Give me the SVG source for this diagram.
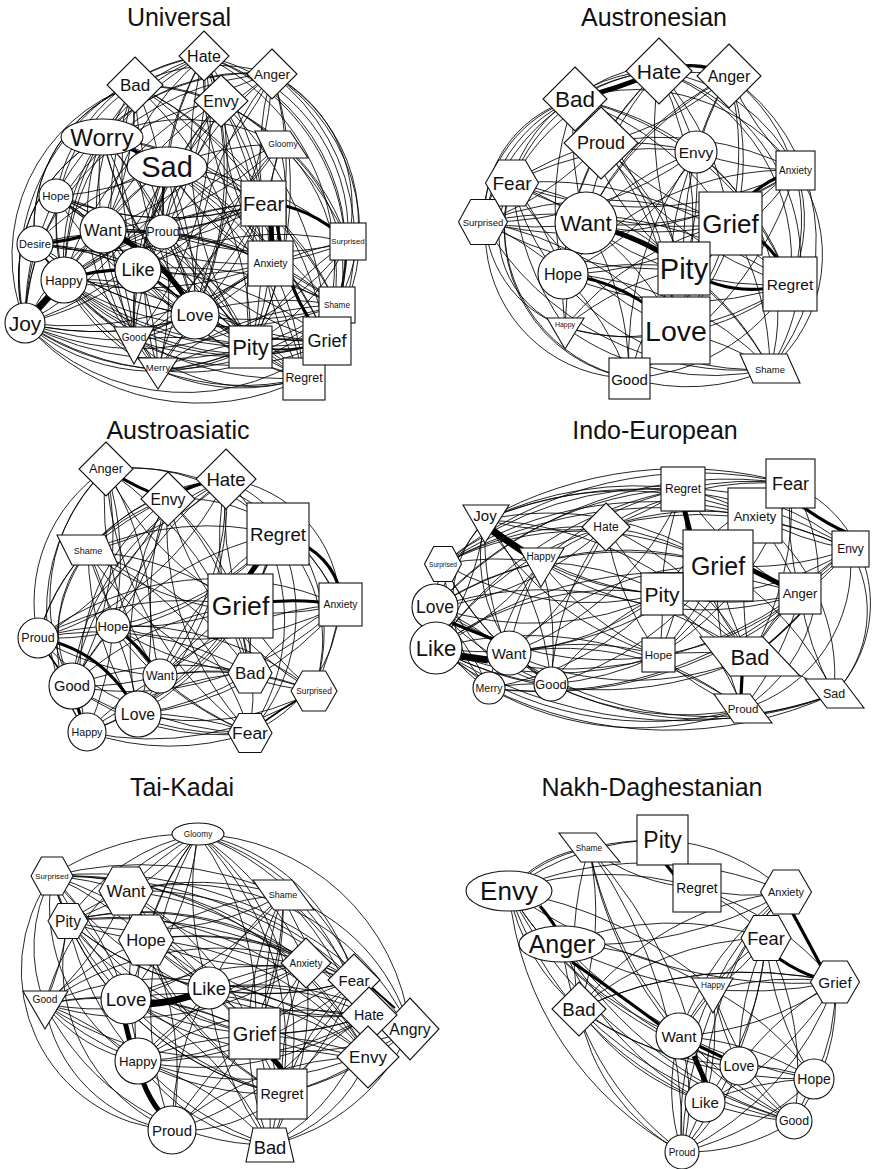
<svg xmlns="http://www.w3.org/2000/svg" width="874" height="1169" viewBox="0 0 874 1169">
<style>
.e path{fill:none;stroke:#000;stroke-width:.85}
.e path.m{stroke-width:1.7}
.e path.t{stroke-width:3.2}
.e path.x{stroke-width:5}
.e path.xx{stroke-width:7}
.n circle,.n rect,.n polygon,.n ellipse{fill:#fff;stroke:#111;stroke-width:1.1}
text{font-family:"Liberation Sans",Arial,Helvetica,sans-serif;fill:#111;text-anchor:middle;dominant-baseline:central}
text.ttl{font-size:25px;dominant-baseline:auto}
</style>
<rect width="874" height="1169" fill="#fff"/>

<!-- ================= UNIVERSAL ================= -->
<text class="ttl" x="179" y="26">Universal</text>
<g id="edges-universal" class="e">
<path d="M204 56A180 180 0 0 1 348 242M204 56A200 200 0 0 1 337 305M204 56A210 210 0 0 1 327 341M204 56A230 230 0 0 1 304 378M204 56A300 300 0 0 1 263 203M204 56A300 300 0 0 0 270 263M204 56A350 350 0 0 1 195 315M204 56A300 300 0 0 0 103 230M204 56A350 350 0 0 0 251 347M204 56A300 300 0 0 0 167 167"/>
<path d="M272 74A150 150 0 0 1 348 242M272 74A170 170 0 0 1 337 305M272 74A190 190 0 0 1 327 341M272 74A210 210 0 0 1 304 378M272 74A300 300 0 0 0 263 203M272 74A300 300 0 0 1 270 263M272 74A350 350 0 0 0 195 315M272 74A350 350 0 0 1 251 347M272 74A300 300 0 0 0 138 270M272 74A260 260 0 0 0 25 323"/>
<path d="M280 144A160 160 0 0 1 327 341M280 144A180 180 0 0 1 304 378M280 144A300 300 0 0 1 263 203M280 144A300 300 0 0 0 270 263M280 144A300 300 0 0 0 167 167M280 144A350 350 0 0 1 138 270M280 144A350 350 0 0 0 195 315M280 144A200 200 0 0 0 102 137M280 144A200 200 0 0 0 135 85"/>
<path d="M135 85A180 180 0 0 1 272 74M135 85A300 300 0 0 1 263 203M135 85A350 350 0 0 0 195 315M135 85A300 300 0 0 0 138 270M135 85A300 300 0 0 1 270 263M135 85A300 300 0 0 1 163 232M135 85A350 350 0 0 1 251 347M135 85A230 230 0 0 1 348 242M135 85A180 180 0 0 0 25 323M135 85A150 150 0 0 0 35 244M135 85A170 170 0 0 0 64 280M135 85A230 230 0 0 0 158 370"/>
<path d="M221 101A300 300 0 0 1 263 203M221 101A300 300 0 0 0 270 263M221 101A350 350 0 0 0 138 270M221 101A350 350 0 0 1 195 315M221 101A300 300 0 0 0 103 230M221 101A350 350 0 0 1 251 347M221 101A350 350 0 0 1 327 341M221 101A300 300 0 0 0 163 232M221 101A230 230 0 0 0 25 323"/>
<path d="M102 137A200 200 0 0 1 272 74M102 137A160 160 0 0 1 204 56M102 137A300 300 0 0 0 103 230M102 137A300 300 0 0 1 138 270M102 137A350 350 0 0 1 195 315M102 137A300 300 0 0 1 263 203M102 137A350 350 0 0 1 270 263M102 137A350 350 0 0 0 251 347M102 137A300 300 0 0 1 163 232M102 137A300 300 0 0 0 64 280M102 137A160 160 0 0 0 25 323M102 137A200 200 0 0 0 134 340"/>
<path d="M167 167A300 300 0 0 1 263 203M167 167A300 300 0 0 0 270 263M167 167A300 300 0 0 1 138 270M167 167A300 300 0 0 0 103 230M167 167A350 350 0 0 1 195 315M167 167A350 350 0 0 0 251 347M167 167A350 350 0 0 1 327 341M167 167A350 350 0 0 0 134 340M167 167A300 300 0 0 1 56 196M167 167A300 300 0 0 0 163 232M167 167A300 300 0 0 1 348 242M167 167A350 350 0 0 0 337 305M167 167A350 350 0 0 1 304 378M167 167A350 350 0 0 0 64 280"/>
<path d="M263 203A300 300 0 0 0 138 270M263 203A300 300 0 0 1 195 315M263 203A300 300 0 0 1 103 230M263 203A300 300 0 0 0 251 347M263 203A300 300 0 0 1 337 305M263 203A300 300 0 0 0 304 378M263 203A350 350 0 0 0 64 280M263 203A300 300 0 0 1 163 232M263 203A350 350 0 0 0 25 323M263 203A300 300 0 0 1 56 196"/>
<path d="M270 263A300 300 0 0 1 138 270M270 263A300 300 0 0 0 195 315M270 263A350 350 0 0 0 103 230M270 263A300 300 0 0 1 251 347M270 263A300 300 0 0 0 337 305M270 263A300 300 0 0 1 304 378M270 263A350 350 0 0 1 64 280M270 263A300 300 0 0 0 348 242M270 263A300 300 0 0 1 134 340M270 263A350 350 0 0 0 35 244M270 263A350 350 0 0 1 25 323"/>
<path d="M163 232A300 300 0 0 1 195 315M163 232A300 300 0 0 0 138 270M163 232A300 300 0 0 0 64 280M163 232A300 300 0 0 1 251 347M163 232A300 300 0 0 0 327 341M163 232A300 300 0 0 1 158 370M163 232A300 300 0 0 0 304 378"/>
<path d="M103 230A300 300 0 0 1 138 270M103 230A300 300 0 0 0 64 280M103 230A300 300 0 0 1 251 347M103 230A300 300 0 0 0 327 341M103 230A300 300 0 0 1 134 340M103 230A300 300 0 0 0 25 323M103 230A300 300 0 0 1 56 196M103 230A300 300 0 0 0 158 370M103 230A350 350 0 0 1 337 305M103 230A350 350 0 0 0 304 378"/>
<path d="M138 270A300 300 0 0 1 195 315M138 270A300 300 0 0 0 251 347M138 270A300 300 0 0 1 327 341M138 270A300 300 0 0 0 134 340M138 270A300 300 0 0 1 25 323M138 270A300 300 0 0 0 304 378M138 270A300 300 0 0 1 158 370M138 270A300 300 0 0 0 35 244M138 270A350 350 0 0 1 337 305M138 270A300 300 0 0 0 56 196"/>
<path d="M195 315A300 300 0 0 1 251 347M195 315A300 300 0 0 0 327 341M195 315A300 300 0 0 1 304 378M195 315A300 300 0 0 0 134 340M195 315A300 300 0 0 1 158 370M195 315A300 300 0 0 0 64 280M195 315A300 300 0 0 1 25 323M195 315A300 300 0 0 0 337 305M195 315A300 300 0 0 1 35 244M195 315A300 300 0 0 0 56 196M195 315A300 300 0 0 1 348 242"/>
<path d="M64 280A300 300 0 0 0 134 340M64 280A300 300 0 0 0 158 370M64 280A300 300 0 0 0 251 347M64 280A350 350 0 0 0 327 341M64 280A220 220 0 0 1 204 56M64 280A300 300 0 0 1 35 244M64 280A300 300 0 0 1 56 196"/>
<path d="M25 323A300 300 0 0 0 134 340M25 323A300 300 0 0 0 158 370M25 323A300 300 0 0 0 251 347M25 323A220 220 0 0 1 204 56M25 323A160 160 0 0 1 102 137M25 323A300 300 0 0 1 56 196M25 323A220 220 0 0 0 327 341M25 323A230 230 0 0 0 304 378M25 323A250 250 0 0 0 337 305M25 323A260 260 0 0 0 348 242M25 323A200 200 0 0 0 251 347"/>
<path d="M35 244A300 300 0 0 1 138 270M35 244A300 300 0 0 0 195 315M35 244A300 300 0 0 1 251 347M35 244A150 150 0 0 1 135 85M35 244A260 260 0 0 0 327 341"/>
<path d="M56 196A300 300 0 0 0 103 230M56 196A300 300 0 0 1 195 315M56 196A300 300 0 0 0 263 203M56 196A170 170 0 0 1 204 56M56 196A220 220 0 0 1 272 74"/>
<path d="M348 242A300 300 0 0 1 327 341M348 242A300 300 0 0 0 251 347M348 242A300 300 0 0 1 304 378M348 242A220 220 0 0 1 158 370M337 305A300 300 0 0 0 327 341M337 305A300 300 0 0 1 251 347M337 305A300 300 0 0 0 304 378M337 305A200 200 0 0 1 158 370"/>
<path d="M327 341A200 200 0 0 1 134 340M327 341A300 300 0 0 0 158 370M327 341A250 250 0 0 1 64 280M304 378A170 170 0 0 1 134 340M304 378A250 250 0 0 1 158 370M304 378A200 200 0 0 1 64 280M134 340A300 300 0 0 1 251 347M158 370A300 300 0 0 0 251 347"/>
<path d="M204 56A300 300 0 0 1 138 270M204 56A300 300 0 0 0 163 232M204 56A350 350 0 0 1 134 340M204 56A260 260 0 0 0 64 280M272 74A300 300 0 0 1 103 230M272 74A300 300 0 0 0 163 232M272 74A350 350 0 0 1 134 340M272 74A300 300 0 0 0 64 280M135 85A300 300 0 0 1 103 230M135 85A350 350 0 0 0 134 340M135 85A350 350 0 0 1 327 341M135 85A350 350 0 0 0 304 378"/>
<path d="M221 101A350 350 0 0 0 134 340M221 101A300 300 0 0 1 64 280M221 101A300 300 0 0 0 337 305M221 101A300 300 0 0 1 348 242M102 137A350 350 0 0 1 327 341M102 137A350 350 0 0 0 304 378M102 137A300 300 0 0 1 337 305M167 167A300 300 0 0 0 158 370M167 167A300 300 0 0 1 25 323M167 167A300 300 0 0 0 35 244"/>
<path d="M280 144A300 300 0 0 1 251 347M280 144A300 300 0 0 0 163 232M280 144A300 300 0 0 1 103 230M263 203A300 300 0 0 1 134 340M263 203A300 300 0 0 0 158 370M263 203A300 300 0 0 1 35 244M270 263A300 300 0 0 0 158 370M270 263A300 300 0 0 1 56 196M163 232A300 300 0 0 1 337 305M163 232A300 300 0 0 0 348 242M163 232A300 300 0 0 1 25 323M163 232A300 300 0 0 0 134 340"/>
<path d="M138 270A300 300 0 0 1 348 242M64 280A300 300 0 0 1 304 378M64 280A300 300 0 0 0 337 305M35 244A300 300 0 0 0 134 340M35 244A300 300 0 0 1 158 370M35 244A300 300 0 0 0 304 378M56 196A300 300 0 0 1 251 347M56 196A300 300 0 0 0 327 341M56 196A300 300 0 0 1 138 270M134 340A300 300 0 0 0 327 341M134 340A300 300 0 0 1 337 305M158 370A300 300 0 0 1 337 305M25 323A300 300 0 0 1 35 244M25 323A300 300 0 0 0 195 315"/>
<path class="xx" d="M25 323L64 280"/>
<path class="t" d="M35 244Q70 242 103 230"/>
<path class="x" d="M103 230Q165 255 195 315"/>
<path class="t" d="M64 280Q100 268 138 270"/>
<path class="t" d="M102 137Q135 150 167 167"/>
<path class="t" d="M263 203Q310 205 348 242"/>
<path class="x" d="M271 220L272 250"/>
<path class="t" d="M276 215Q286 300 327 341"/>
<path class="m" d="M251 347Q290 354 327 341"/>
<path class="m" d="M138 270Q170 285 195 315"/>
<path class="m" d="M204 56Q215 80 221 101"/>
</g>
<g id="u-hate" class="n"><polygon points="204,31 229,56 204,81 179,56"/><text x="204" y="56" font-size="16">Hate</text></g>
<g id="u-anger" class="n"><polygon points="272,49 297,74 272,99 247,74"/><text x="272" y="74" font-size="13.5">Anger</text></g>
<g id="u-bad" class="n"><polygon points="135,57 163,85 135,113 107,85"/><text x="135" y="85" font-size="17">Bad</text></g>
<g id="u-envy" class="n"><polygon points="221,75 248,101 221,127 194,101"/><text x="221" y="101" font-size="16">Envy</text></g>
<g id="u-worry" class="n"><ellipse cx="102" cy="137" rx="41" ry="18"/><text x="102" y="137" font-size="24">Worry</text></g>
<g id="u-sad" class="n"><ellipse cx="167" cy="167" rx="40" ry="20"/><text x="167" y="167" font-size="29">Sad</text></g>
<g id="u-gloomy" class="n"><polygon points="255,131 290,131 308,158 268,158"/><text x="283" y="144" font-size="8.5">Gloomy</text></g>
<g id="u-fear" class="n"><rect x="241" y="181" width="45" height="45"/><text x="263.5" y="203.5" font-size="20">Fear</text></g>
<g id="u-hope" class="n"><circle cx="56" cy="196" r="17"/><text x="56" y="196" font-size="11.5">Hope</text></g>
<g id="u-want" class="n"><circle cx="103" cy="230" r="23"/><text x="103" y="230" font-size="16.5">Want</text></g>
<g id="u-proud" class="n"><circle cx="163" cy="232" r="17"/><text x="163" y="232" font-size="12.5">Proud</text></g>
<g id="u-desire" class="n"><circle cx="35" cy="244" r="18"/><text x="35" y="244" font-size="11">Desire</text></g>
<g id="u-surprised" class="n"><rect x="330" y="223" width="36" height="37"/><text x="348" y="241.5" font-size="7.8">Surprised</text></g>
<g id="u-anxiety" class="n"><rect x="248" y="241" width="45" height="45"/><text x="270.5" y="263.5" font-size="10.4">Anxiety</text></g>
<g id="u-like" class="n"><circle cx="138" cy="270" r="23"/><text x="138" y="270" font-size="18">Like</text></g>
<g id="u-happy" class="n"><circle cx="64" cy="280" r="23"/><text x="64" y="280" font-size="13">Happy</text></g>
<g id="u-shame" class="n"><rect x="319" y="287" width="36" height="36"/><text x="337" y="305" font-size="8.2">Shame</text></g>
<g id="u-love" class="n"><circle cx="195" cy="315" r="24"/><text x="195" y="315" font-size="17">Love</text></g>
<g id="u-joy" class="n"><circle cx="25" cy="323" r="20"/><text x="25" y="323" font-size="21">Joy</text></g>
<g id="u-good" class="n"><polygon points="114,327 154,327 134,364"/><text x="134" y="337" font-size="10">Good</text></g>
<g id="u-merry" class="n"><polygon points="138,358 178,358 158,389"/><text x="158" y="367" font-size="9.5">Merry</text></g>
<g id="u-pity" class="n"><rect x="229" y="326" width="43" height="42"/><text x="250.5" y="347" font-size="22">Pity</text></g>
<g id="u-regret" class="n"><rect x="283" y="358" width="42" height="42"/><text x="304" y="378" font-size="12.4">Regret</text></g>
<g id="u-grief" class="n"><rect x="303" y="317" width="48" height="48"/><text x="327" y="341" font-size="18">Grief</text></g>

<!-- ================= AUSTRONESIAN ================= -->
<text class="ttl" x="654" y="26">Austronesian</text>
<g id="edges-austronesian" class="e">
<path d="M575 99A150 150 0 0 1 729 76M729 76A200 200 0 0 1 770 369M729 76A180 180 0 0 1 790 284M659 71A200 200 0 0 1 770 369M659 71A200 200 0 0 1 790 284M796 170A150 150 0 0 1 770 369M696 152A200 200 0 0 1 770 369M729 76A250 250 0 0 1 676 330M629 378A145 145 0 0 1 575 99M629 378A155 155 0 0 1 659 71M565 327A119 119 0 0 1 575 99M565 327A100 100 0 0 1 512 183M629 378A150 150 0 0 1 512 183"/>
<path d="M770 369A200 200 0 0 1 629 378M770 369A250 250 0 0 1 565 327M790 284A200 200 0 0 1 629 378M790 284A250 250 0 0 1 565 327M770 369A300 300 0 0 1 483 222M512 183A170 170 0 0 1 659 71M512 183A200 200 0 0 1 729 76M483 222A130 130 0 0 1 575 99M483 222A200 200 0 0 1 659 71M796 170A150 150 0 0 1 790 284M659 71A180 180 0 0 1 796 170M575 99A200 200 0 0 1 796 170M676 330A200 200 0 0 1 565 327M770 369A250 250 0 0 1 512 183"/>
<path d="M575 99A300 300 0 0 1 696 152M575 99A300 300 0 0 0 586 223M575 99A300 300 0 0 1 730 223M575 99A300 300 0 0 0 684 268M575 99A300 300 0 0 0 563 274M575 99A350 350 0 0 1 676 330M575 99A300 300 0 0 1 790 284"/>
<path d="M659 71A300 300 0 0 0 601 143M659 71A300 300 0 0 1 696 152M659 71A300 300 0 0 0 586 223M659 71A300 300 0 0 1 730 223M659 71A350 350 0 0 0 684 268M659 71A350 350 0 0 1 676 330M659 71A300 300 0 0 0 563 274"/>
<path d="M729 76A300 300 0 0 0 696 152M729 76A300 300 0 0 0 586 223M729 76A300 300 0 0 1 730 223M729 76A350 350 0 0 0 684 268M729 76A300 300 0 0 1 601 143M729 76A350 350 0 0 0 563 274M729 76A300 300 0 0 0 796 170"/>
<path d="M601 143A300 300 0 0 1 696 152M601 143A300 300 0 0 0 730 223M601 143A300 300 0 0 1 684 268M601 143A300 300 0 0 0 512 183M601 143A300 300 0 0 1 483 222M601 143A350 350 0 0 1 676 330M601 143A300 300 0 0 0 563 274M601 143A300 300 0 0 1 796 170M601 143A350 350 0 0 0 790 284"/>
<path d="M696 152A300 300 0 0 0 586 223M696 152A300 300 0 0 1 684 268M696 152A300 300 0 0 0 676 330M696 152A300 300 0 0 1 563 274M696 152A300 300 0 0 0 796 170M696 152A300 300 0 0 1 790 284M696 152A300 300 0 0 0 512 183M696 152A350 350 0 0 1 483 222M696 152A350 350 0 0 0 629 378"/>
<path d="M512 183A300 300 0 0 1 586 223M512 183A350 350 0 0 0 730 223M512 183A350 350 0 0 1 684 268M512 183A350 350 0 0 0 796 170M512 183A300 300 0 0 1 563 274M512 183A350 350 0 0 0 676 330M512 183A350 350 0 0 1 790 284M512 183A300 300 0 0 0 565 327"/>
<path d="M483 222A300 300 0 0 0 586 223M483 222A350 350 0 0 1 730 223M483 222A350 350 0 0 0 684 268M483 222A300 300 0 0 1 563 274M483 222A350 350 0 0 1 676 330M483 222A400 400 0 0 0 796 170M483 222A400 400 0 0 1 790 284"/>
<path d="M586 223A300 300 0 0 0 730 223M586 223A300 300 0 0 1 676 330M586 223A300 300 0 0 0 790 284M586 223A300 300 0 0 1 629 378M586 223A300 300 0 0 0 565 327M586 223A300 300 0 0 1 770 369M586 223A300 300 0 0 0 796 170"/>
<path d="M730 223A300 300 0 0 1 563 274M730 223A300 300 0 0 0 676 330M730 223A300 300 0 0 1 629 378M730 223A300 300 0 0 0 565 327M730 223A300 300 0 0 1 770 369M563 274A300 300 0 0 1 684 268M563 274A300 300 0 0 0 790 284M563 274A300 300 0 0 1 629 378M563 274A300 300 0 0 0 565 327M563 274A300 300 0 0 1 770 369"/>
<path d="M684 268A300 300 0 0 0 629 378M684 268A300 300 0 0 1 770 369M684 268A300 300 0 0 0 565 327M676 330A300 300 0 0 0 790 284M676 330A300 300 0 0 1 770 369M676 330A300 300 0 0 0 629 378M796 170A300 300 0 0 1 684 268M796 170A300 300 0 0 0 676 330M796 170A350 350 0 0 1 629 378M796 170A300 300 0 0 0 563 274"/>
<path class="x" d="M575 99Q615 90 659 71"/>
<path class="t" d="M659 71Q700 58 729 76"/>
<path class="x" d="M586 223Q650 240 684 268"/>
<path class="t" d="M563 274Q630 282 676 330"/>
<path class="t" d="M684 268Q730 300 790 284"/>
<path class="t" d="M730 223Q775 240 790 284"/>
<path class="t" d="M796 170Q765 180 745 200"/>
<path class="m" d="M512 183Q495 200 483 222"/>
<path class="m" d="M586 223Q575 250 563 274"/>
</g>
<g id="a-hate" class="n"><polygon points="659,38 692,71 659,104 626,71"/><text x="659" y="71" font-size="21">Hate</text></g>
<g id="a-anger" class="n"><polygon points="729,44 761,76 729,108 697,76"/><text x="729" y="76" font-size="16">Anger</text></g>
<g id="a-bad" class="n"><polygon points="575,67 607,99 575,131 543,99"/><text x="575" y="99" font-size="22.5">Bad</text></g>
<g id="a-proud" class="n"><polygon points="601,107 638,143 601,179 564,143"/><text x="601" y="143" font-size="18">Proud</text></g>
<g id="a-envy" class="n"><circle cx="696" cy="152" r="21"/><text x="696" y="152" font-size="15.5">Envy</text></g>
<g id="a-anxiety" class="n"><rect x="776" y="151" width="39" height="39"/><text x="795.5" y="170.5" font-size="10">Anxiety</text></g>
<g id="a-fear" class="n"><polygon points="485.5,183 498.75,160 525.25,160 538.5,183 525.25,206 498.75,206"/><text x="512" y="183" font-size="19">Fear</text></g>
<g id="a-surprised" class="n"><polygon points="458.5,222 470.75,199.5 495.25,199.5 507.5,222 495.25,244.5 470.75,244.5"/><text x="483" y="222" font-size="9.5">Surprised</text></g>
<g id="a-want" class="n"><circle cx="586" cy="223" r="31"/><text x="586" y="223" font-size="22.5">Want</text></g>
<g id="a-hope" class="n"><circle cx="563" cy="274" r="25"/><text x="563" y="274" font-size="16">Hope</text></g>
<g id="a-grief" class="n"><rect x="699" y="192" width="63" height="63"/><text x="730.5" y="223.5" font-size="26">Grief</text></g>
<g id="a-pity" class="n"><rect x="658" y="242" width="52" height="53"/><text x="684" y="268.5" font-size="29">Pity</text></g>
<g id="a-regret" class="n"><rect x="763" y="257" width="54" height="54"/><text x="790" y="284" font-size="15.5">Regret</text></g>
<g id="a-happy" class="n"><polygon points="547,318 584,318 565,349"/><text x="565" y="324" font-size="7">Happy</text></g>
<g id="a-love" class="n"><rect x="642" y="297" width="68" height="67"/><text x="676" y="330.5" font-size="28.5">Love</text></g>
<g id="a-good" class="n"><rect x="609" y="358" width="41" height="41"/><text x="629.5" y="379" font-size="15">Good</text></g>
<g id="a-shame" class="n"><polygon points="740,354 787,354 800,383 753,383"/><text x="770" y="369" font-size="9.5">Shame</text></g>

<!-- ================= AUSTROASIATIC ================= -->
<text class="ttl" x="178" y="439">Austroasiatic</text>
<g id="edges-austroasiatic" class="e">
<path d="M38 638A160 160 0 0 1 106 469M72 686A180 180 0 0 1 106 469M87 732A200 200 0 0 1 106 469M38 638A220 220 0 0 1 226 479M72 686A120 120 0 0 1 88 551M87 732A150 150 0 0 1 88 551M106 469A200 200 0 0 1 278 534M106 469A230 230 0 0 1 340 605M226 479A130 130 0 0 1 340 605M168 499A170 170 0 0 1 340 605M226 479A170 170 0 0 1 314 691M278 534A150 150 0 0 1 314 691"/>
<path d="M340 605A150 150 0 0 1 250 733M314 691A250 250 0 0 1 138 714M250 733A250 250 0 0 1 87 732M250 733A250 250 0 0 1 72 686M314 691A300 300 0 0 1 87 732M88 551A200 200 0 0 1 226 479M38 638A200 200 0 0 1 168 499M87 732A220 220 0 0 1 168 499M72 686A250 250 0 0 1 226 479M226 479A200 200 0 0 1 250 733M278 534A180 180 0 0 1 250 733"/>
<path d="M106 469A300 300 0 0 1 113 626M106 469A300 300 0 0 0 160 676M106 469A300 300 0 0 1 138 714M106 469A300 300 0 0 0 241 606M106 469A350 350 0 0 1 250 673M106 469A300 300 0 0 1 72 686M106 469A350 350 0 0 0 250 733"/>
<path d="M168 499A300 300 0 0 0 88 551M168 499A300 300 0 0 1 113 626M168 499A300 300 0 0 0 160 676M168 499A300 300 0 0 1 241 606M168 499A300 300 0 0 0 138 714M168 499A300 300 0 0 1 250 673M168 499A300 300 0 0 0 250 733M168 499A300 300 0 0 1 38 638M168 499A300 300 0 0 0 314 691"/>
<path d="M226 479A300 300 0 0 0 113 626M226 479A300 300 0 0 1 160 676M226 479A300 300 0 0 0 241 606M226 479A300 300 0 0 1 138 714M226 479A300 300 0 0 0 250 673M226 479A300 300 0 0 1 38 638M226 479A300 300 0 0 0 72 686M226 479A300 300 0 0 1 88 551"/>
<path d="M278 534A300 300 0 0 0 88 551M278 534A300 300 0 0 1 113 626M278 534A300 300 0 0 0 160 676M278 534A300 300 0 0 1 138 714M278 534A300 300 0 0 0 250 673M278 534A300 300 0 0 1 38 638M278 534A300 300 0 0 0 72 686M278 534A300 300 0 0 1 87 732"/>
<path d="M88 551A300 300 0 0 1 113 626M88 551A300 300 0 0 0 160 676M88 551A300 300 0 0 1 241 606M88 551A300 300 0 0 0 138 714M88 551A300 300 0 0 1 250 673M88 551A300 300 0 0 0 340 605M88 551A300 300 0 0 1 250 733M88 551A300 300 0 0 0 314 691"/>
<path d="M241 606A300 300 0 0 0 38 638M241 606A300 300 0 0 1 113 626M241 606A300 300 0 0 0 72 686M241 606A300 300 0 0 1 160 676M241 606A300 300 0 0 0 138 714M241 606A300 300 0 0 1 87 732M241 606A300 300 0 0 0 250 673M241 606A300 300 0 0 1 250 733M241 606A300 300 0 0 0 314 691"/>
<path d="M340 605A300 300 0 0 1 113 626M340 605A300 300 0 0 0 160 676M340 605A300 300 0 0 1 138 714M340 605A300 300 0 0 0 250 673M340 605A300 300 0 0 1 314 691M340 605A300 300 0 0 0 38 638M340 605A300 300 0 0 1 72 686"/>
<path d="M38 638A300 300 0 0 1 113 626M38 638A300 300 0 0 0 160 676M38 638A300 300 0 0 1 250 673M38 638A300 300 0 0 0 250 733M113 626A300 300 0 0 0 72 686M113 626A300 300 0 0 1 138 714M113 626A300 300 0 0 0 250 673M113 626A300 300 0 0 1 314 691M113 626A300 300 0 0 0 250 733M113 626A300 300 0 0 1 87 732"/>
<path d="M72 686A300 300 0 0 0 160 676M72 686A300 300 0 0 1 250 673M72 686A300 300 0 0 0 250 733M160 676A300 300 0 0 1 250 673M160 676A300 300 0 0 0 250 733M160 676A300 300 0 0 1 314 691M160 676A300 300 0 0 0 87 732M250 673A300 300 0 0 1 138 714M250 673A300 300 0 0 0 87 732M250 673A300 300 0 0 1 314 691M138 714A300 300 0 0 1 250 733"/>
<path class="t" d="M106 469Q140 490 168 499"/>
<path class="t" d="M168 499Q195 482 226 479"/>
<path class="x" d="M262 558Q250 572 246 582"/>
<path class="t" d="M241 606Q290 596 340 605"/>
<path class="t" d="M278 534Q325 548 338 584"/>
<path class="t" d="M38 638Q105 650 138 714"/>
<path class="t" d="M113 626Q140 645 160 676"/>
<path class="t" d="M72 686Q78 712 87 732"/>
<path class="m" d="M250 733Q280 708 314 691"/>
<path class="m" d="M38 638Q55 665 72 686"/>
</g>
<g id="b-anger" class="n"><polygon points="106,442 133,469 106,496 79,469"/><text x="106" y="469" font-size="12.7">Anger</text></g>
<g id="b-envy" class="n"><polygon points="168,472 195,499 168,526 141,499"/><text x="168" y="499" font-size="15.7">Envy</text></g>
<g id="b-hate" class="n"><polygon points="226,449 256,479 226,509 196,479"/><text x="226" y="479" font-size="18.5">Hate</text></g>
<g id="b-regret" class="n"><rect x="247" y="503" width="62" height="62"/><text x="278" y="534" font-size="18.7">Regret</text></g>
<g id="b-shame" class="n"><polygon points="57,535 105,535 118,565 72,565"/><text x="88" y="551" font-size="9">Shame</text></g>
<g id="b-grief" class="n"><rect x="208" y="574" width="65" height="64"/><text x="240.5" y="606" font-size="26.6">Grief</text></g>
<g id="b-anxiety" class="n"><rect x="319" y="583" width="43" height="43"/><text x="340.5" y="604.5" font-size="10.4">Anxiety</text></g>
<g id="b-proud" class="n"><circle cx="38" cy="638" r="20"/><text x="38" y="638" font-size="12.5">Proud</text></g>
<g id="b-hope" class="n"><circle cx="113" cy="626" r="17"/><text x="113" y="626" font-size="13">Hope</text></g>
<g id="b-good" class="n"><circle cx="72" cy="686" r="23"/><text x="72" y="686" font-size="14.7">Good</text></g>
<g id="b-want" class="n"><circle cx="160" cy="676" r="17"/><text x="160" y="676" font-size="12.3">Want</text></g>
<g id="b-bad" class="n"><polygon points="228,673 239,653 261,653 272,673 261,693 239,693"/><text x="250" y="673" font-size="17">Bad</text></g>
<g id="b-surprised" class="n"><polygon points="291,691 302.5,671 325.5,671 337,691 325.5,711 302.5,711"/><text x="314" y="691" font-size="8.3">Surprised</text></g>
<g id="b-love" class="n"><circle cx="138" cy="714" r="23"/><text x="138" y="714" font-size="15.8">Love</text></g>
<g id="b-happy" class="n"><circle cx="87" cy="732" r="19"/><text x="87" y="732" font-size="10.7">Happy</text></g>
<g id="b-fear" class="n"><polygon points="228,733 239,713.5 261,713.5 272,733 261,752.5 239,752.5"/><text x="250" y="733" font-size="17.4">Fear</text></g>

<!-- ================= INDO-EUROPEAN ================= -->
<text class="ttl" x="655" y="439">Indo-European</text>
<g id="edges-indo-european" class="e">
<path d="M485 520A350 350 0 0 1 683 489M485 520A400 400 0 0 1 791 484M443 564A350 350 0 0 1 683 489M443 564A400 400 0 0 1 791 484M435 607A350 350 0 0 1 683 489M485 520A350 350 0 0 1 755 516M443 564A380 380 0 0 1 755 516M435 607A400 400 0 0 1 791 484M436 648A380 380 0 0 1 683 489M489 688A120 120 0 0 1 485 520M551 684A150 150 0 0 1 485 520M551 684A130 130 0 0 1 443 564M489 688A100 100 0 0 1 443 564"/>
<path d="M834 694A400 400 0 0 1 489 688M834 694A350 350 0 0 1 551 684M743 709A300 300 0 0 1 489 688M743 709A350 350 0 0 1 436 648M834 694A450 450 0 0 1 436 648M750 657A350 350 0 0 1 436 648M834 694A350 350 0 0 1 509 653M743 709A300 300 0 0 1 551 684M800 594A400 400 0 0 1 489 688M850 549A400 400 0 0 1 489 688M850 549A400 400 0 0 1 436 648"/>
<path d="M791 484A130 130 0 0 1 834 694M850 549A120 120 0 0 1 834 694M850 549A150 150 0 0 1 743 709M791 484A160 160 0 0 1 743 709M755 516A200 200 0 0 1 834 694M683 489A250 250 0 0 1 850 549M683 489A300 300 0 0 1 791 484M606 527A300 300 0 0 1 791 484M606 527A350 350 0 0 1 850 549M485 520A400 400 0 0 1 850 549M443 564A450 450 0 0 1 850 549"/>
<path d="M485 520A300 300 0 0 0 435 607M485 520A300 300 0 0 1 436 648M485 520A300 300 0 0 0 509 653M485 520A300 300 0 0 1 551 684M485 520A300 300 0 0 0 662 594M485 520A300 300 0 0 1 718 565M485 520A300 300 0 0 0 659 655M485 520A350 350 0 0 1 750 657M485 520A300 300 0 0 0 606 527"/>
<path d="M443 564A300 300 0 0 1 541 562M443 564A300 300 0 0 0 509 653M443 564A300 300 0 0 1 606 527M443 564A300 300 0 0 0 662 594M443 564A300 300 0 0 1 718 565M443 564A300 300 0 0 0 551 684"/>
<path d="M541 562A300 300 0 0 0 435 607M541 562A300 300 0 0 1 436 648M541 562A300 300 0 0 0 509 653M541 562A300 300 0 0 1 551 684M541 562A300 300 0 0 0 489 688M541 562A300 300 0 0 1 606 527M541 562A300 300 0 0 0 662 594M541 562A300 300 0 0 1 718 565M541 562A300 300 0 0 0 659 655M541 562A300 300 0 0 1 750 657M541 562A300 300 0 0 0 800 594M541 562A300 300 0 0 1 683 489"/>
<path d="M606 527A300 300 0 0 1 435 607M606 527A300 300 0 0 0 436 648M606 527A300 300 0 0 1 509 653M606 527A300 300 0 0 0 662 594M606 527A300 300 0 0 1 718 565M606 527A300 300 0 0 0 683 489M606 527A300 300 0 0 1 755 516M606 527A300 300 0 0 0 659 655M606 527A300 300 0 0 1 750 657M606 527A300 300 0 0 0 551 684"/>
<path d="M683 489A300 300 0 0 0 662 594M683 489A300 300 0 0 1 755 516M683 489A300 300 0 0 0 800 594M683 489A300 300 0 0 1 659 655M683 489A300 300 0 0 0 750 657M683 489A300 300 0 0 1 509 653M791 484A300 300 0 0 0 755 516M791 484A300 300 0 0 1 718 565M791 484A300 300 0 0 0 800 594M791 484A300 300 0 0 1 750 657M791 484A300 300 0 0 0 662 594M791 484A300 300 0 0 1 659 655"/>
<path d="M755 516A300 300 0 0 0 718 565M755 516A300 300 0 0 1 800 594M755 516A300 300 0 0 0 850 549M755 516A300 300 0 0 1 662 594M755 516A300 300 0 0 0 750 657M755 516A300 300 0 0 1 659 655M850 549A300 300 0 0 0 800 594M850 549A300 300 0 0 1 718 565M850 549A300 300 0 0 0 750 657M850 549A300 300 0 0 1 662 594"/>
<path d="M718 565A300 300 0 0 0 750 657M718 565A300 300 0 0 1 659 655M718 565A300 300 0 0 0 743 709M718 565A300 300 0 0 1 834 694M718 565A350 350 0 0 0 435 607M718 565A350 350 0 0 1 436 648M718 565A300 300 0 0 0 509 653M718 565A300 300 0 0 1 551 684"/>
<path d="M662 594A300 300 0 0 1 435 607M662 594A300 300 0 0 0 436 648M662 594A300 300 0 0 1 509 653M662 594A300 300 0 0 0 551 684M662 594A300 300 0 0 1 659 655M662 594A300 300 0 0 0 750 657M662 594A300 300 0 0 1 743 709M662 594A300 300 0 0 0 800 594M662 594A300 300 0 0 1 489 688"/>
<path d="M800 594A300 300 0 0 0 750 657M800 594A300 300 0 0 1 743 709M800 594A300 300 0 0 0 834 694M800 594A300 300 0 0 1 659 655M800 594A400 400 0 0 0 436 648M435 607A300 300 0 0 1 509 653M435 607A300 300 0 0 0 551 684M435 607A300 300 0 0 1 489 688M435 607A300 300 0 0 0 659 655M435 607A350 350 0 0 1 750 657"/>
<path d="M436 648A300 300 0 0 0 551 684M436 648A300 300 0 0 1 489 688M436 648A300 300 0 0 0 659 655M436 648A350 350 0 0 1 743 709M509 653A300 300 0 0 1 551 684M509 653A300 300 0 0 0 489 688M509 653A300 300 0 0 1 659 655M509 653A300 300 0 0 0 750 657M509 653A300 300 0 0 1 743 709M659 655A300 300 0 0 1 750 657M659 655A300 300 0 0 0 743 709M659 655A300 300 0 0 1 551 684M750 657A300 300 0 0 1 834 694M551 684A300 300 0 0 0 489 688"/>
<path class="xx" d="M488 528L530 556"/>
<path class="x" d="M684 508L690 532"/>
<path class="x" d="M752 570L788 588"/>
<path class="xx" d="M460 656L488 660"/>
<path class="t" d="M452 623L495 640"/>
<path class="t" d="M800 505Q828 525 848 533"/>
<path class="t" d="M742 676L741 696"/>
<path class="m" d="M800 614Q775 640 760 650"/>
</g>
<g id="i-regret" class="n"><rect x="661" y="467" width="44" height="44"/><text x="683" y="489" font-size="12">Regret</text></g>
<g id="i-anxiety" class="n"><rect x="728" y="488" width="54" height="55"/><text x="755" y="516" font-size="13">Anxiety</text></g>
<g id="i-fear" class="n"><rect x="766" y="459" width="49" height="49"/><text x="790.5" y="484" font-size="18">Fear</text></g>
<g id="i-joy" class="n"><polygon points="463,505 509,505 485,543"/><text x="485" y="515" font-size="15">Joy</text></g>
<g id="i-hate" class="n"><polygon points="606,503 630,527 606,551 582,527"/><text x="606" y="527" font-size="12">Hate</text></g>
<g id="i-envy" class="n"><rect x="832" y="531" width="37" height="36"/><text x="850.5" y="549" font-size="12">Envy</text></g>
<g id="i-surprised" class="n"><polygon points="424.5,564 433.75,546.5 452.25,546.5 461.5,564 452.25,581.5 433.75,581.5"/><text x="443" y="564" font-size="6.5">Surprised</text></g>
<g id="i-happy" class="n"><polygon points="519,548 564,548 541,587"/><text x="541" y="556" font-size="10">Happy</text></g>
<g id="i-grief" class="n"><rect x="683" y="530" width="70" height="71"/><text x="718" y="565.5" font-size="25">Grief</text></g>
<g id="i-pity" class="n"><rect x="641" y="573" width="42" height="42"/><text x="662" y="594" font-size="21">Pity</text></g>
<g id="i-anger" class="n"><rect x="779" y="573" width="42" height="41"/><text x="800" y="593.5" font-size="13">Anger</text></g>
<g id="i-love" class="n"><circle cx="435" cy="607" r="23"/><text x="435" y="607" font-size="17.5">Love</text></g>
<g id="i-like" class="n"><circle cx="436" cy="648" r="26"/><text x="436" y="648" font-size="22">Like</text></g>
<g id="i-want" class="n"><circle cx="509" cy="653" r="22"/><text x="509" y="653" font-size="15">Want</text></g>
<g id="i-hope" class="n"><rect x="642" y="638" width="33" height="34"/><text x="658.5" y="655" font-size="11.5">Hope</text></g>
<g id="i-bad" class="n"><polygon points="700,637 763,637 800,676 730,676"/><text x="750" y="657" font-size="22">Bad</text></g>
<g id="i-merry" class="n"><circle cx="489" cy="688" r="16"/><text x="489" y="688" font-size="10.5">Merry</text></g>
<g id="i-good" class="n"><circle cx="551" cy="684" r="17"/><text x="551" y="684" font-size="12.8">Good</text></g>
<g id="i-sad" class="n"><polygon points="805,679 842,679 864,708 827,708"/><text x="834" y="694" font-size="12.5">Sad</text></g>
<g id="i-proud" class="n"><polygon points="714,694 750,694 772,723 734,723"/><text x="743" y="709" font-size="11.5">Proud</text></g>

<!-- ================= TAI-KADAI ================= -->
<text class="ttl" x="182" y="796">Tai-Kadai</text>
<g id="edges-tai-kadai" class="e">
<path d="M52 876A250 250 0 0 1 198 834M52 876A350 350 0 0 1 283 895M52 876A400 400 0 0 1 306 963M52 876A450 450 0 0 1 354 980M198 834A220 220 0 0 1 410 1029M198 834A200 200 0 0 1 354 980M198 834A250 250 0 0 1 369 1015M198 834A260 260 0 0 1 368 1057M198 834A260 260 0 0 1 270 1145M283 895A200 200 0 0 1 410 1029M410 1029A200 200 0 0 1 270 1145M368 1057A150 150 0 0 1 270 1145M369 1015A200 200 0 0 1 270 1145"/>
<path d="M172 1130A160 160 0 0 1 52 876M172 1130A150 150 0 0 1 45 1004M172 1130A180 180 0 0 1 68 921M138 1061A180 180 0 0 1 52 876M138 1061A150 150 0 0 1 45 1004M270 1145A250 250 0 0 1 45 1004M270 1145A200 200 0 0 1 138 1061M270 1145A300 300 0 0 1 68 921M45 1004A150 150 0 0 1 52 876M45 1004A250 250 0 0 1 198 834M68 921A200 200 0 0 1 198 834M282 1094A150 150 0 0 1 172 1130M126 891A250 250 0 0 1 410 1029M52 876A400 400 0 0 1 410 1029M68 921A450 450 0 0 1 410 1029M198 834A300 300 0 0 1 282 1094"/>
<path d="M198 834A300 300 0 0 0 126 891M198 834A300 300 0 0 1 68 921M198 834A300 300 0 0 0 146 940M198 834A300 300 0 0 1 126 999M198 834A300 300 0 0 0 209 988M198 834A300 300 0 0 1 255 1034M198 834A300 300 0 0 0 138 1061M198 834A300 300 0 0 1 306 963M198 834A350 350 0 0 0 172 1130"/>
<path d="M52 876A300 300 0 0 1 126 891M52 876A300 300 0 0 0 68 921M52 876A300 300 0 0 1 146 940M52 876A300 300 0 0 0 126 999M52 876A300 300 0 0 1 209 988M52 876A300 300 0 0 0 255 1034M52 876A300 300 0 0 1 138 1061M52 876A300 300 0 0 0 282 1094M52 876A350 350 0 0 1 368 1057M52 876A350 350 0 0 0 369 1015"/>
<path d="M126 891A300 300 0 0 1 283 895M126 891A300 300 0 0 0 68 921M126 891A300 300 0 0 1 126 999M126 891A300 300 0 0 0 209 988M126 891A300 300 0 0 1 255 1034M126 891A300 300 0 0 0 306 963M126 891A300 300 0 0 1 354 980M126 891A300 300 0 0 0 369 1015M126 891A300 300 0 0 1 368 1057M126 891A300 300 0 0 0 282 1094M126 891A300 300 0 0 1 45 1004"/>
<path d="M283 895A300 300 0 0 1 68 921M283 895A300 300 0 0 0 146 940M283 895A300 300 0 0 1 126 999M283 895A300 300 0 0 0 209 988M283 895A300 300 0 0 1 255 1034M283 895A300 300 0 0 0 282 1094M283 895A300 300 0 0 1 354 980M283 895A300 300 0 0 0 369 1015M283 895A300 300 0 0 1 368 1057M283 895A300 300 0 0 0 270 1145M283 895A300 300 0 0 1 172 1130"/>
<path d="M68 921A300 300 0 0 0 146 940M68 921A300 300 0 0 1 126 999M68 921A300 300 0 0 0 209 988M68 921A300 300 0 0 1 306 963M68 921A300 300 0 0 0 354 980M68 921A300 300 0 0 1 369 1015M68 921A300 300 0 0 0 255 1034M68 921A300 300 0 0 1 368 1057M68 921A300 300 0 0 0 282 1094M68 921A300 300 0 0 1 45 1004"/>
<path d="M146 940A300 300 0 0 1 126 999M146 940A300 300 0 0 0 209 988M146 940A300 300 0 0 1 255 1034M146 940A300 300 0 0 0 306 963M146 940A300 300 0 0 1 354 980M146 940A300 300 0 0 0 369 1015M146 940A300 300 0 0 1 368 1057M146 940A300 300 0 0 0 282 1094M146 940A300 300 0 0 1 410 1029M146 940A300 300 0 0 0 45 1004M146 940A300 300 0 0 1 172 1130"/>
<path d="M306 963A300 300 0 0 1 126 999M306 963A300 300 0 0 0 209 988M306 963A300 300 0 0 1 255 1034M306 963A300 300 0 0 0 282 1094M306 963A300 300 0 0 1 270 1145M306 963A300 300 0 0 0 138 1061M306 963A300 300 0 0 1 45 1004M354 980A300 300 0 0 0 126 999M354 980A300 300 0 0 1 209 988M354 980A300 300 0 0 0 255 1034M354 980A300 300 0 0 1 282 1094M354 980A300 300 0 0 0 270 1145M354 980A300 300 0 0 1 138 1061M354 980A300 300 0 0 0 45 1004M354 980A300 300 0 0 1 172 1130"/>
<path d="M45 1004A300 300 0 0 1 126 999M45 1004A300 300 0 0 0 209 988M45 1004A300 300 0 0 1 255 1034M45 1004A300 300 0 0 0 369 1015M45 1004A300 300 0 0 1 368 1057M45 1004A300 300 0 0 0 410 1029M45 1004A300 300 0 0 1 138 1061M126 999A300 300 0 0 1 255 1034M126 999A300 300 0 0 0 369 1015M126 999A300 300 0 0 1 368 1057M126 999A300 300 0 0 0 282 1094M126 999A300 300 0 0 1 270 1145M126 999A300 300 0 0 0 410 1029"/>
<path d="M209 988A300 300 0 0 0 255 1034M209 988A300 300 0 0 1 369 1015M209 988A300 300 0 0 0 368 1057M209 988A300 300 0 0 1 282 1094M209 988A300 300 0 0 0 270 1145M209 988A300 300 0 0 1 138 1061M209 988A300 300 0 0 0 172 1130M209 988A300 300 0 0 1 410 1029M369 1015A300 300 0 0 1 255 1034M369 1015A300 300 0 0 0 282 1094M369 1015A300 300 0 0 1 138 1061"/>
<path d="M255 1034A300 300 0 0 0 368 1057M255 1034A300 300 0 0 1 138 1061M255 1034A300 300 0 0 0 172 1130M255 1034A300 300 0 0 1 270 1145M368 1057A300 300 0 0 0 138 1061M368 1057A300 300 0 0 1 282 1094M368 1057A300 300 0 0 0 172 1130M138 1061A300 300 0 0 0 282 1094M138 1061A300 300 0 0 1 270 1145M410 1029A300 300 0 0 1 282 1094M410 1029A300 300 0 0 0 138 1061"/>
<path class="xx" d="M148 1004Q175 1002 195 994"/>
<path class="x" d="M125 1022L130 1042"/>
<path class="x" d="M143 1082Q150 1100 160 1112"/>
<path class="t" d="M138 910L143 920"/>
<path class="x" d="M272 1058Q279 1064 283 1072"/>
<path class="m" d="M372 988L395 1008"/>
</g>
<g id="t-gloomy" class="n"><ellipse cx="198" cy="834" rx="26" ry="11"/><text x="198" y="834" font-size="8.3">Gloomy</text></g>
<g id="t-surprised" class="n"><polygon points="31,876 41.5,857 62.5,857 73,876 62.5,895 41.5,895"/><text x="52" y="876" font-size="7.8">Surprised</text></g>
<g id="t-want" class="n"><polygon points="99,891 112.5,867 139.5,867 153,891 139.5,915 112.5,915"/><text x="126" y="891" font-size="17">Want</text></g>
<g id="t-shame" class="n"><polygon points="253,880 292,880 314,910 274,910"/><text x="283" y="895" font-size="9">Shame</text></g>
<g id="t-pity" class="n"><polygon points="48,921 58,903.5 78,903.5 88,921 78,938.5 58,938.5"/><text x="68" y="921" font-size="15.6">Pity</text></g>
<g id="t-hope" class="n"><polygon points="118.5,940 132.25,915 159.75,915 173.5,940 159.75,965 132.25,965"/><text x="146" y="940" font-size="16.6">Hope</text></g>
<g id="t-anxiety" class="n"><polygon points="306,938 331,963 306,988 281,963"/><text x="306" y="963" font-size="10">Anxiety</text></g>
<g id="t-good" class="n"><polygon points="23,991 68,991 45,1029"/><text x="45" y="999" font-size="10.2">Good</text></g>
<g id="t-love" class="n"><circle cx="126" cy="999" r="25"/><text x="126" y="999" font-size="18.8">Love</text></g>
<g id="t-like" class="n"><circle cx="209" cy="988" r="21"/><text x="209" y="988" font-size="18.5">Like</text></g>
<g id="t-angry" class="n"><polygon points="410,998 439,1029 410,1060 381,1029"/><text x="410" y="1029" font-size="15.8">Angry</text></g>
<g id="t-fear" class="n"><polygon points="354,954 380,980 354,1006 328,980"/><text x="354" y="980" font-size="15">Fear</text></g>
<g id="t-hate" class="n"><polygon points="369,987 397,1015 369,1043 341,1015"/><text x="369" y="1015" font-size="14.2">Hate</text></g>
<g id="t-grief" class="n"><rect x="229" y="1008" width="51" height="51"/><text x="254.5" y="1033.5" font-size="20">Grief</text></g>
<g id="t-envy" class="n"><polygon points="368,1026 399,1057 368,1088 337,1057"/><text x="368" y="1057" font-size="17">Envy</text></g>
<g id="t-happy" class="n"><circle cx="138" cy="1061" r="23"/><text x="138" y="1061" font-size="13.2">Happy</text></g>
<g id="t-regret" class="n"><rect x="257" y="1069" width="50" height="50"/><text x="282" y="1094" font-size="14.4">Regret</text></g>
<g id="t-proud" class="n"><circle cx="172" cy="1130" r="24"/><text x="172" y="1130" font-size="15">Proud</text></g>
<g id="t-bad" class="n"><polygon points="253,1128 286,1128 294,1162 246,1162"/><text x="270" y="1147" font-size="18.4">Bad</text></g>

<!-- ================= NAKH-DAGHESTANIAN ================= -->
<text class="ttl" x="652" y="796">Nakh-Daghestanian</text>
<g id="edges-nakh-daghestanian" class="e">
<path d="M509 891A250 250 0 0 1 663 840M509 891A120 120 0 0 1 589 848M509 891A150 150 0 0 1 589 848M509 891A300 300 0 0 1 697 888M509 891A350 350 0 0 1 786 892M663 840A200 200 0 0 1 786 892M589 848A300 300 0 0 1 663 840M589 848A200 200 0 0 0 697 888M697 888A200 200 0 0 0 786 892M697 888A200 200 0 0 1 766 938M697 888A300 300 0 0 1 835 982"/>
<path d="M509 891A330 330 0 0 0 682 1152M509 891A350 350 0 0 0 705 1102M562 944A300 300 0 0 0 682 1152M562 944A300 300 0 0 0 705 1102M579 1009A200 200 0 0 0 682 1152M579 1009A250 250 0 0 0 705 1102M589 848A500 500 0 0 1 682 1152M589 848A400 400 0 0 0 679 1036M589 848A300 300 0 0 1 579 1009M589 848A350 350 0 0 0 579 1009M589 848A450 450 0 0 1 705 1102M589 848A400 400 0 0 0 794 1121"/>
<path d="M509 891A350 350 0 0 0 679 1036M509 891A200 200 0 0 0 579 1009M509 891A400 400 0 0 0 739 1066M509 891A500 500 0 0 0 835 982M509 891A450 450 0 0 0 794 1121M509 891A400 400 0 0 1 713 990M562 944A300 300 0 0 1 766 938M562 944A400 400 0 0 0 835 982M562 944A350 350 0 0 0 739 1066M562 944A400 400 0 0 0 794 1121M562 944A450 450 0 0 0 814 1079M562 944A300 300 0 0 1 713 990"/>
<path d="M579 1009A300 300 0 0 1 766 938M579 1009A400 400 0 0 1 835 982M579 1009A300 300 0 0 1 786 892M579 1009A300 300 0 0 0 739 1066M579 1009A400 400 0 0 0 814 1079M579 1009A400 400 0 0 0 794 1121M786 892A300 300 0 0 0 679 1036M786 892A300 300 0 0 0 713 990M786 892A300 300 0 0 0 705 1102M786 892A400 400 0 0 0 682 1152M786 892A400 400 0 0 1 562 944"/>
<path d="M766 938A300 300 0 0 0 679 1036M766 938A200 200 0 0 1 713 990M766 938A300 300 0 0 1 705 1102M766 938A300 300 0 0 0 739 1066M766 938A300 300 0 0 1 794 1121M766 938A300 300 0 0 0 814 1079M766 938A400 400 0 0 1 682 1152M835 982A300 300 0 0 0 713 990M835 982A300 300 0 0 1 679 1036M835 982A300 300 0 0 0 739 1066M835 982A300 300 0 0 1 705 1102M835 982A200 200 0 0 1 814 1079M835 982A200 200 0 0 1 794 1121M835 982A300 300 0 0 1 682 1152M835 982A400 400 0 0 0 579 1009"/>
<path d="M713 990L679 1036M713 990A300 300 0 0 1 705 1102M713 990A300 300 0 0 0 739 1066M713 990A300 300 0 0 0 794 1121M713 990A300 300 0 0 1 814 1079M713 990A300 300 0 0 0 682 1152M679 1036A200 200 0 0 0 682 1152M679 1036A200 200 0 0 1 682 1152M679 1036A300 300 0 0 1 814 1079M679 1036A300 300 0 0 0 794 1121M739 1066A200 200 0 0 0 794 1121M739 1066A200 200 0 0 1 814 1079M739 1066A200 200 0 0 1 682 1152M705 1102A300 300 0 0 1 814 1079M705 1102A300 300 0 0 0 794 1121M705 1102L682 1152M794 1121A200 200 0 0 1 682 1152M814 1079L794 1121M814 1079A300 300 0 0 1 682 1152"/>
<path class="t" d="M664 862L676 877"/>
<path class="t" d="M540 906Q550 918 556 928"/>
<path class="t" d="M572 962Q620 995 660 1025"/>
<path class="t" d="M792 912Q810 945 822 968"/>
<path class="t" d="M778 958Q800 973 818 978"/>
<path class="x" d="M694 1056L706 1083"/>
<path class="t" d="M699 1046L724 1058"/>
</g>
<g id="n-pity" class="n"><rect x="637" y="815" width="51" height="50"/><text x="662.5" y="840" font-size="23">Pity</text></g>
<g id="n-shame" class="n"><polygon points="559,833 596,833 620,862 581,862"/><text x="589" y="848" font-size="8.4">Shame</text></g>
<g id="n-regret" class="n"><rect x="673" y="864" width="48" height="48"/><text x="697" y="888" font-size="13.8">Regret</text></g>
<g id="n-envy" class="n"><ellipse cx="509" cy="891" rx="43" ry="20"/><text x="509" y="891" font-size="26">Envy</text></g>
<g id="n-anxiety" class="n"><polygon points="760.5,892 773.25,870 798.75,870 811.5,892 798.75,914 773.25,914"/><text x="786" y="892" font-size="11">Anxiety</text></g>
<g id="n-anger" class="n"><ellipse cx="562" cy="944" rx="43" ry="18"/><text x="562" y="944" font-size="25">Anger</text></g>
<g id="n-fear" class="n"><polygon points="741,938 753.5,915.5 778.5,915.5 791,938 778.5,960.5 753.5,960.5"/><text x="766" y="938" font-size="18.3">Fear</text></g>
<g id="n-grief" class="n"><polygon points="810.5,982 822.75,961 847.25,961 859.5,982 847.25,1003 822.75,1003"/><text x="835" y="982" font-size="15.4">Grief</text></g>
<g id="n-happy" class="n"><polygon points="692,978 733,978 713,1013"/><text x="713" y="985" font-size="8.3">Happy</text></g>
<g id="n-bad" class="n"><polygon points="579,982 606,1009 579,1036 552,1009"/><text x="579" y="1009" font-size="18.7">Bad</text></g>
<g id="n-want" class="n"><circle cx="679" cy="1036" r="23"/><text x="679" y="1036" font-size="15.3">Want</text></g>
<g id="n-love" class="n"><circle cx="739" cy="1066" r="19"/><text x="739" y="1066" font-size="14.3">Love</text></g>
<g id="n-hope" class="n"><circle cx="814" cy="1079" r="20"/><text x="814" y="1079" font-size="14">Hope</text></g>
<g id="n-like" class="n"><circle cx="705" cy="1102" r="20"/><text x="705" y="1102" font-size="15">Like</text></g>
<g id="n-good" class="n"><circle cx="794" cy="1121" r="18"/><text x="794" y="1121" font-size="12.3">Good</text></g>
<g id="n-proud" class="n"><circle cx="682" cy="1152" r="17"/><text x="682" y="1152" font-size="10">Proud</text></g>
</svg>
